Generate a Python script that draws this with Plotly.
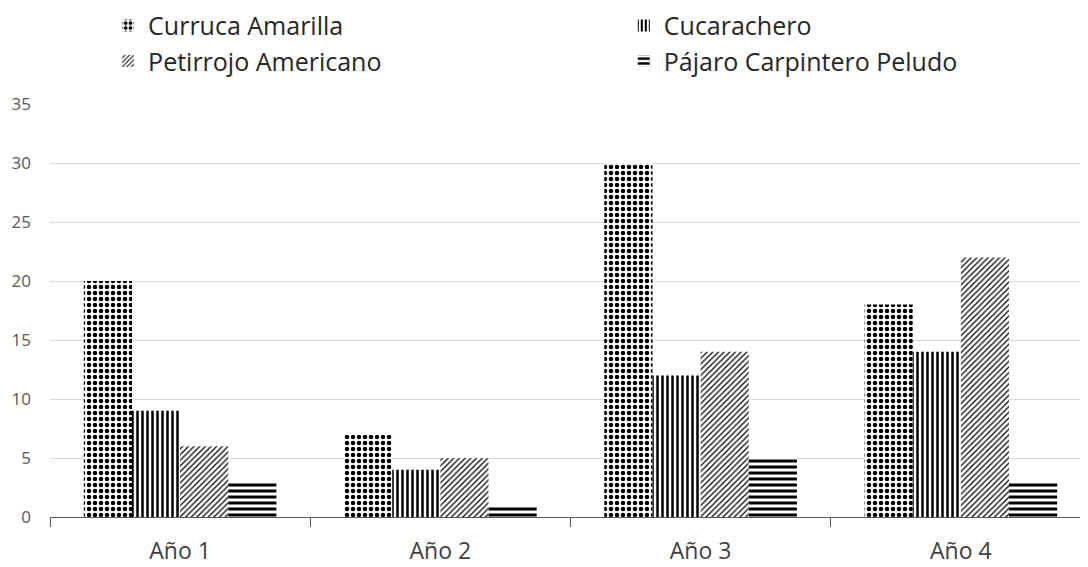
import plotly.graph_objects as go

categories = ["Año 1", "Año 2", "Año 3", "Año 4"]
series_names = ["Curruca Amarilla", "Cucarachero", "Petirrojo Americano", "Pájaro Carpintero Peludo"]
curruca = [20, 7, 30, 18]
cucarachero = [9, 4, 12, 14]
petirrojo = [6, 5, 14, 22]
pajaro = [3, 1, 5, 3]
y_ticks = [0, 5, 10, 15, 20, 25, 30, 35]

values = [curruca, cucarachero, petirrojo, pajaro]
patterns = [
    dict(shape=".", size=6, solidity=0.45),
    dict(shape="|", size=5, solidity=0.5),
    dict(shape="/", size=4, solidity=0.3),
    dict(shape="-", size=6, solidity=0.5),
]
legend_ids = ["legend", "legend2", "legend", "legend2"]

fig = go.Figure()
for name, vals, pat, lg in zip(series_names, values, patterns, legend_ids):
    fig.add_trace(go.Bar(
        x=categories, y=vals, name=name, legend=lg,
        marker=dict(color="white", line=dict(width=0),
                    pattern=dict(fgcolor="black", bgcolor="white", fillmode="replace", **pat)),
    ))

legend_style = dict(
    orientation="v", y=1.245, yanchor="top", xref="container", yref="paper",
    xanchor="left", font=dict(size=25, color="#262626"), itemwidth=30,
    bgcolor="rgba(0,0,0,0)", tracegroupgap=0,
)

fig.update_layout(
    width=1088, height=567,
    paper_bgcolor="white", plot_bgcolor="white",
    margin=dict(l=42, r=5, t=96, b=58, autoexpand=False),
    barmode="group", bargap=0.26, bargroupgap=0,
    font=dict(family="Open Sans, DejaVu Sans, sans-serif", color="#404040"),
    legend=dict(x=0.092, **legend_style),
    legend2=dict(x=0.566, **legend_style),
    xaxis=dict(
        type="category", range=[-0.5, 3.5], showgrid=False,
        showline=True, linecolor="#595959", linewidth=1,
        ticks="outside", tickson="boundaries", ticklen=9, tickcolor="#595959",
        ticklabelstandoff=13,
        tickfont=dict(size=23, color="#404040"),
    ),
    yaxis=dict(
        range=[0, 35], tickvals=y_ticks, showgrid=True, gridcolor="#d9d9d9", gridwidth=1,
        zeroline=False, showline=False, ticks="", ticklabelstandoff=18,
        tickfont=dict(size=17, color="#595959"),
    ),
)
fig.write_html("out.html")
